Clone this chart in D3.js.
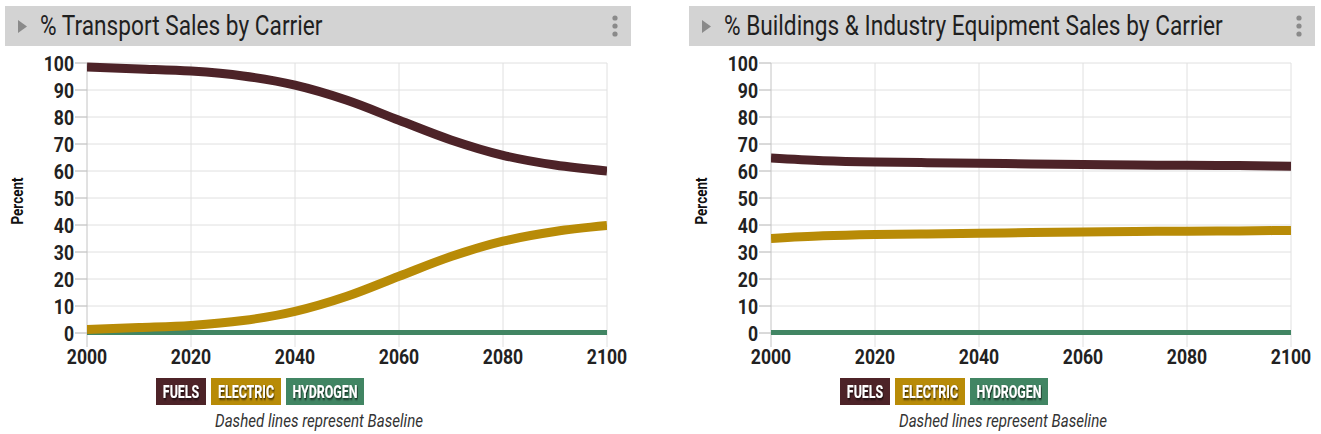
<!DOCTYPE html>
<html>
<head>
<meta charset="utf-8">
<script src="https://cdn.jsdelivr.net/npm/d3@7"></script>
<style>
  body { margin: 0; background: #fff; }
  svg text { font-family: Roboto, "Noto Sans", sans-serif; }
</style>
</head>
<body>
<svg id="chart" width="1321" height="434"></svg>
<script>
const years = [2000, 2010, 2020, 2030, 2040, 2050, 2060, 2070, 2080, 2090, 2100];

const transportFuels = [98.5, 97.8, 97.0, 95.2, 91.8, 86.2, 78.8, 71.5, 65.8, 62.2, 60.0];
const transportElectric = [1.3, 2.0, 2.8, 4.6, 8.0, 13.6, 21.0, 28.3, 34.0, 37.6, 39.8];
const transportHydrogen = [0.2, 0.2, 0.2, 0.2, 0.2, 0.2, 0.2, 0.2, 0.2, 0.2, 0.2];

const buildingsFuels = [64.8, 63.8, 63.3, 63.1, 62.9, 62.6, 62.4, 62.2, 62.1, 62.0, 61.8];
const buildingsElectric = [35.0, 36.0, 36.5, 36.7, 36.9, 37.2, 37.4, 37.6, 37.7, 37.8, 38.0];
const buildingsHydrogen = [0.2, 0.2, 0.2, 0.2, 0.2, 0.2, 0.2, 0.2, 0.2, 0.2, 0.2];

const yTicks = [0, 10, 20, 30, 40, 50, 60, 70, 80, 90, 100];
const xTicks = [2000, 2020, 2040, 2060, 2080, 2100];

const carriers = ["FUELS", "ELECTRIC", "HYDROGEN"];
const carrierColors = ["#4d2328", "#b88b07", "#418563"];

const panels = [
  { title: "% Transport Sales by Carrier", series: [transportFuels, transportElectric, transportHydrogen] },
  { title: "% Buildings & Industry Equipment Sales by Carrier", series: [buildingsFuels, buildingsElectric, buildingsHydrogen] },
];

const svg = d3.select("#chart");
const condensed = 0.84;

// text squeezed horizontally, to look like a condensed face
function narrowText(g, x, y, str, opts) {
  const sx = opts.sx || condensed;
  const t = g.append("text")
    .attr("transform", `translate(${x},${y}) scale(${sx},1)`)
    .attr("text-anchor", opts.anchor || "start")
    .attr("font-size", opts.size)
    .attr("font-weight", opts.weight || "normal")
    .attr("fill", opts.fill || "#222")
    .text(str);
  if (opts.italic) t.attr("font-style", "italic");
  return t;
}

function drawPanel(panel, offsetX) {
  const g = svg.append("g").attr("transform", `translate(${offsetX},0)`);

  // header bar
  g.append("rect").attr("x", 5).attr("y", 6).attr("width", 626).attr("height", 40).attr("fill", "#d3d3d3");
  g.append("path").attr("d", "M18,20 L27,26.5 L18,33 Z").attr("fill", "#8a8a8a");
  [18, 26, 34].forEach((cy) => {
    g.append("circle").attr("cx", 615).attr("cy", cy).attr("r", 2.6).attr("fill", "#8a8a8a");
  });
  narrowText(g, 40, 35, panel.title, { size: 27, fill: "#1f1f1f" });

  const x = d3.scaleLinear().domain([2000, 2100]).range([87, 607]);
  const y = d3.scaleLinear().domain([0, 100]).range([333, 63]);

  // grid
  g.selectAll(".hgrid").data(yTicks).join("line")
    .attr("x1", 75).attr("x2", 607)
    .attr("y1", (d) => y(d)).attr("y2", (d) => y(d))
    .attr("stroke", "#e0e0e0").attr("stroke-width", 1);
  g.selectAll(".vgrid").data(xTicks).join("line")
    .attr("x1", (d) => x(d)).attr("x2", (d) => x(d))
    .attr("y1", 63).attr("y2", 347)
    .attr("stroke", (d) => (d === 2000 ? "#c4c4c4" : "#e0e0e0")).attr("stroke-width", 1);
  // tick stubs on the left
  g.selectAll(".ystub").data(yTicks).join("line")
    .attr("x1", 75).attr("x2", 87)
    .attr("y1", (d) => y(d)).attr("y2", (d) => y(d))
    .attr("stroke", "#c4c4c4");

  yTicks.forEach((d) => {
    narrowText(g, 74, y(d) + 7.5, d, { size: 21, weight: "bold", anchor: "end", fill: "#222" });
  });
  xTicks.forEach((d) => {
    narrowText(g, x(d), 364, d, { size: 21, weight: "bold", anchor: "middle", fill: "#222" });
  });

  g.append("text")
    .attr("transform", `translate(23,201) rotate(-90) scale(${condensed},1)`)
    .attr("text-anchor", "middle")
    .attr("font-size", 16).attr("font-weight", "bold").attr("fill", "#111")
    .text("Percent");

  const line = d3.line()
    .x((d, i) => x(years[i]))
    .y((d) => y(d))
    .curve(d3.curveMonotoneX);

  const clipId = "clip" + offsetX;
  g.append("clipPath").attr("id", clipId)
    .append("rect").attr("x", 87).attr("y", 40).attr("width", 520).attr("height", 310);

  // draw hydrogen first, then electric, then fuels on top
  [2, 1, 0].forEach((k) => {
    g.append("path")
      .datum(panel.series[k])
      .attr("clip-path", `url(#${clipId})`)
      .attr("fill", "none")
      .attr("stroke", carrierColors[k])
      .attr("stroke-width", k === 2 ? 5 : 9)
      .attr("d", line);
  });

  // legend
  const defsId = "shadow" + offsetX;
  const f = g.append("filter").attr("id", defsId).attr("x", "-20%").attr("y", "-20%").attr("width", "140%").attr("height", "160%");
  f.append("feDropShadow").attr("dx", 1).attr("dy", 1.5).attr("stdDeviation", 0.8).attr("flood-color", "#000").attr("flood-opacity", 0.8);

  const boxes = [
    { x: 156, w: 50 },
    { x: 211, w: 70 },
    { x: 286, w: 78 },
  ];
  carriers.forEach((c, i) => {
    g.append("rect").attr("x", boxes[i].x).attr("y", 378).attr("width", boxes[i].w).attr("height", 27)
      .attr("fill", carrierColors[i]);
    narrowText(g, boxes[i].x + boxes[i].w / 2, 398, c, { size: 18, sx: 0.69, weight: "bold", anchor: "middle", fill: "#fff" })
      .attr("filter", `url(#${defsId})`);
  });

  narrowText(g, 319, 427, "Dashed lines represent Baseline", { size: 18, italic: true, anchor: "middle", fill: "#333" });
}

panels.forEach((p, i) => drawPanel(p, i * 684));
</script>
</body>
</html>
